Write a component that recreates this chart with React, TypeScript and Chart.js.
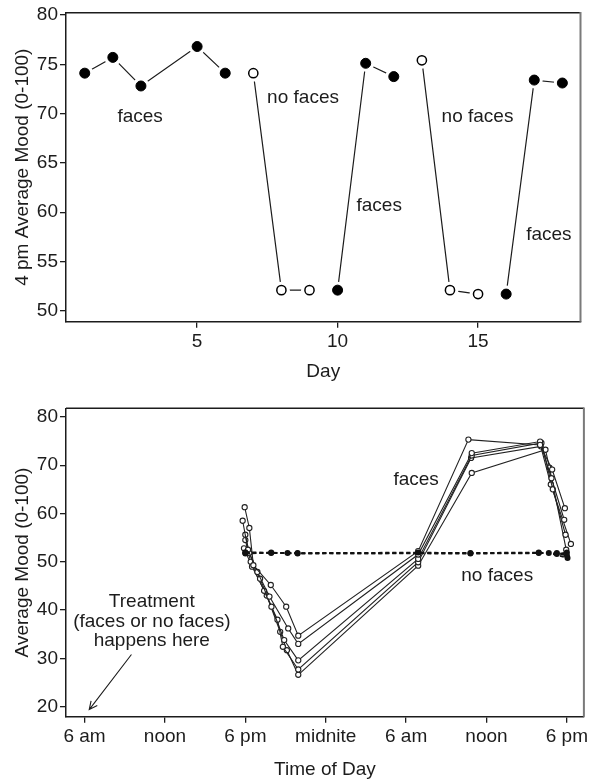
import React, { useEffect, useRef } from 'react';
import { Chart, registerables } from 'chart.js';
Chart.register(...registerables);

const FONT = "'Liberation Sans', Arial, sans-serif";
const INK = '#1c1c1c';

// ---------- Top panel: 4 pm mood by day ----------
const days = [1, 2, 3, 5, 6, 7, 8, 9, 10, 11, 12, 13, 14, 15, 16, 17, 18];
const mood4pm = [74.1, 75.7, 72.8, 76.8, 74.1, 74.1, 52.1, 52.1, 52.1, 75.1, 73.75, 75.4, 52.1, 51.7, 51.7, 73.4, 73.1];
const dayCondition = ['faces', 'faces', 'faces', 'faces', 'faces', 'none', 'none', 'none', 'faces', 'faces', 'faces', 'none', 'none', 'none', 'faces', 'faces', 'faces'];
const dayRuns = [[1, 2, 3, 5, 6], [7, 8, 9], [10, 11, 12], [13, 14, 15], [16, 17, 18]];
const dayTicks = [5, 10, 15];
const topMoodTicks = [50, 55, 60, 65, 70, 75, 80];
const topNotes = [
  { text: 'faces', x: 2.97, y: 69.7 },
  { text: 'no faces', x: 8.77, y: 71.6 },
  { text: 'faces', x: 11.48, y: 60.7 },
  { text: 'no faces', x: 14.98, y: 69.7 },
  { text: 'faces', x: 17.52, y: 57.7 },
];

// ---------- Bottom panel: mood by time of day ----------
const timeTicks = [6, 12, 18, 24, 30, 36, 42];
const timeTickLabels = ['6 am', 'noon', '6 pm', 'midnite', '6 am', 'noon', '6 pm'];
const bottomMoodTicks = [20, 30, 40, 50, 60, 70, 80];
const facesHours = [
  [17.95, 18.3, 18.6, 19.9, 21.05, 21.95, 30.9, 34.65, 40.0, 40.9, 41.85],
  [17.8, 18.2, 18.9, 19.8, 21.2, 21.95, 30.9, 34.9, 40.0, 40.85, 41.8],
  [18.0, 18.3, 19.1, 19.95, 20.9, 21.95, 30.9, 34.9, 40.1, 40.95, 41.9],
  [18.0, 18.4, 19.4, 20.4, 20.8, 21.95, 30.9, 34.85, 40.05, 40.8, 42.3],
  [17.9, 18.5, 19.6, 20.6, 21.1, 21.95, 30.9, 34.9, 40.4, 40.7, 41.95],
];
const facesMood = [
  [61.3, 57.0, 49.3, 45.2, 40.7, 34.7, 52.2, 75.3, 74.2, 69.1, 61.1],
  [58.5, 52.5, 47.9, 42.8, 36.2, 33.0, 51.5, 72.5, 74.9, 67.3, 58.7],
  [55.6, 51.8, 46.5, 40.7, 33.8, 29.6, 50.6, 72.0, 74.6, 65.0, 55.6],
  [54.5, 50.0, 44.0, 38.0, 32.4, 27.7, 49.9, 71.5, 73.9, 66.0, 53.7],
  [52.8, 49.0, 43.0, 35.5, 31.7, 26.6, 49.2, 68.4, 73.2, 69.5, 52.5],
];
const noFacesHours = [
  [18.0, 19.93, 21.9, 30.9, 34.8, 39.9, 41.25, 42.0],
  [18.0, 21.15, 34.8, 40.65, 42.05],
  [18.0, 19.93, 21.9, 39.9, 41.25, 42.0],
];
const noFacesMood = [
  [51.8, 51.8, 51.8, 51.9, 51.8, 51.8, 51.8, 51.3],
  [52.0, 51.8, 51.7, 51.8, 50.8],
  [51.7, 51.9, 51.7, 51.9, 51.6, 51.9],
];
const bottomNotes = [
  { text: 'faces', x: 30.75, y: 66.9 },
  { text: 'no faces', x: 36.8, y: 47.1 },
  { text: 'Treatment', x: 11.02, y: 41.7 },
  { text: '(faces or no faces)', x: 11.02, y: 37.6 },
  { text: 'happens here', x: 11.02, y: 33.7 },
];
const arrowFrom = [9.5, 30.8];
const arrowTo = [6.35, 19.4];

const textFont = { family: FONT, size: 19 };

function notesPlugin(notes: { text: string; x: number; y: number }[], arrow?: number[][]) {
  return {
    id: 'notes',
    afterDatasetsDraw(chart: any) {
      const { ctx, scales } = chart;
      ctx.save();
      ctx.fillStyle = INK;
      ctx.font = `19px ${FONT}`;
      ctx.textAlign = 'center';
      ctx.textBaseline = 'middle';
      notes.forEach((n) => {
        ctx.fillText(n.text, scales.x.getPixelForValue(n.x), scales.y.getPixelForValue(n.y));
      });
      if (arrow) {
        const x1 = scales.x.getPixelForValue(arrow[0][0]);
        const y1 = scales.y.getPixelForValue(arrow[0][1]);
        const x2 = scales.x.getPixelForValue(arrow[1][0]);
        const y2 = scales.y.getPixelForValue(arrow[1][1]);
        ctx.strokeStyle = INK;
        ctx.lineWidth = 1.1;
        ctx.beginPath();
        ctx.moveTo(x1, y1);
        ctx.lineTo(x2, y2);
        const ang = Math.atan2(y2 - y1, x2 - x1);
        const L = 9;
        ctx.moveTo(x2 - L * Math.cos(ang - 0.45), y2 - L * Math.sin(ang - 0.45));
        ctx.lineTo(x2, y2);
        ctx.lineTo(x2 - L * Math.cos(ang + 0.45), y2 - L * Math.sin(ang + 0.45));
        ctx.stroke();
      }
      ctx.restore();
    },
  };
}

const framePlugin = {
  id: 'frame',
  afterDraw(chart: any) {
    const { ctx, chartArea } = chart;
    const { left, top, right, bottom } = chartArea;
    ctx.save();
    ctx.strokeStyle = INK;
    ctx.lineWidth = 1.5;
    ctx.beginPath();
    ctx.moveTo(left, top);
    ctx.lineTo(right, top);
    ctx.stroke();
    ctx.strokeStyle = '#7a7a7a';
    ctx.lineWidth = 2;
    ctx.beginPath();
    ctx.moveTo(right, top - 0.75);
    ctx.lineTo(right, bottom);
    ctx.stroke();
    ctx.restore();
  },
};

function axisCommon() {
  return {
    grid: { display: true, drawOnChartArea: false, drawTicks: true, tickLength: 6, color: INK, lineWidth: 1.3 },
    border: { display: true, color: INK, width: 1.5 },
  };
}

function topConfig(): any {
  const pts = days.map((d, i) => ({ x: d, y: mood4pm[i] }));
  const lines = dayRuns.map((run) => ({
    data: run.map((d) => ({ x: d, y: mood4pm[days.indexOf(d)] })),
    showLine: true,
    borderColor: INK,
    borderWidth: 1.2,
    pointRadius: 0,
    order: 2,
  }));
  return {
    type: 'scatter',
    data: {
      datasets: [
        ...lines,
        { data: pts, showLine: false, pointRadius: 8.5, pointBackgroundColor: '#fff', pointBorderWidth: 0, pointBorderColor: '#fff', order: 1 },
        {
          data: pts,
          showLine: false,
          pointRadius: dayCondition.map((c) => (c === 'faces' ? 5 : 4.6)),
          pointBackgroundColor: dayCondition.map((c) => (c === 'faces' ? '#000' : '#fff')),
          pointBorderColor: '#000',
          pointBorderWidth: dayCondition.map((c) => (c === 'faces' ? 1 : 1.5)),
          order: 0,
        },
      ],
    },
    options: {
      responsive: false,
      animation: false,
      devicePixelRatio: 1,
      events: [],
      layout: { padding: { top: 12.7, right: 4, left: 0, bottom: 0 } },
      plugins: { legend: { display: false }, tooltip: { enabled: false } },
      scales: {
        x: {
          type: 'linear',
          min: 0.333,
          max: 18.646,
          ...axisCommon(),
          afterBuildTicks: (s: any) => { s.ticks = dayTicks.map((v) => ({ value: v })); },
          afterFit: (s: any) => { s.height = 68.3; s.paddingLeft = 0; s.paddingRight = 0; },
          ticks: { font: textFont, color: INK, padding: 3, maxRotation: 0, autoSkip: false },
          title: { display: true, text: 'Day', font: textFont, color: INK, padding: { top: 0, bottom: 6.6 } },
        },
        y: {
          type: 'linear',
          min: 48.9,
          max: 80.23,
          ...axisCommon(),
          afterBuildTicks: (s: any) => { s.ticks = topMoodTicks.map((v) => ({ value: v })); },
          afterFit: (s: any) => { s.width = 66; s.paddingTop = 0; s.paddingBottom = 0; },
          ticks: { font: textFont, color: INK, padding: 2, autoSkip: false },
          title: { display: true, text: '4 pm Average Mood (0-100)', font: textFont, color: INK, padding: { top: 11, bottom: 0 } },
        },
      },
    },
    plugins: [framePlugin, notesPlugin(topNotes)],
  };
}

function bottomConfig(): any {
  const faces = facesHours.map((hrs, k) => ({
    data: hrs.map((h, i) => ({ x: h, y: facesMood[k][i] })),
    showLine: true,
    borderColor: '#222',
    borderWidth: 1.1,
    pointRadius: 2.6,
    pointBackgroundColor: '#fff',
    pointBorderColor: '#222',
    pointBorderWidth: 1.1,
    order: 1,
  }));
  const none = noFacesHours.map((hrs, k) => ({
    data: hrs.map((h, i) => ({ x: h, y: noFacesMood[k][i] })),
    showLine: true,
    borderColor: '#111',
    borderWidth: 1.8,
    borderDash: [4, 3],
    pointRadius: 3,
    pointBackgroundColor: '#111',
    pointBorderColor: '#111',
    pointBorderWidth: 0,
    order: 0,
  }));
  return {
    type: 'scatter',
    data: { datasets: [...faces, ...none] },
    options: {
      responsive: false,
      animation: false,
      devicePixelRatio: 1,
      events: [],
      layout: { padding: { top: 18.3, right: 4, left: 0, bottom: 0 } },
      plugins: { legend: { display: false }, tooltip: { enabled: false } },
      scales: {
        x: {
          type: 'linear',
          min: 4.615,
          max: 43.27,
          ...axisCommon(),
          afterBuildTicks: (s: any) => { s.ticks = timeTicks.map((v) => ({ value: v })); },
          afterFit: (s: any) => { s.height = 64.3; s.paddingLeft = 0; s.paddingRight = 0; },
          ticks: {
            font: textFont,
            color: INK,
            padding: 3,
            maxRotation: 0,
            autoSkip: false,
            callback: (v: number) => timeTickLabels[timeTicks.indexOf(v)],
          },
          title: { display: true, text: 'Time of Day', font: textFont, color: INK, padding: { top: 0, bottom: 0 } },
        },
        y: {
          type: 'linear',
          min: 17.93,
          max: 81.78,
          ...axisCommon(),
          afterBuildTicks: (s: any) => { s.ticks = bottomMoodTicks.map((v) => ({ value: v })); },
          afterFit: (s: any) => { s.width = 66; s.paddingTop = 0; s.paddingBottom = 0; },
          ticks: { font: textFont, color: INK, padding: 2, autoSkip: false },
          title: { display: true, text: 'Average Mood (0-100)', font: textFont, color: INK, padding: { top: 11, bottom: 0 } },
        },
      },
    },
    plugins: [framePlugin, notesPlugin(bottomNotes, [arrowFrom, arrowTo])],
  };
}

export default function App() {
  const topRef = useRef<HTMLCanvasElement>(null);
  const botRef = useRef<HTMLCanvasElement>(null);
  useEffect(() => {
    Chart.defaults.font.family = FONT;
    const c1 = new Chart(topRef.current as HTMLCanvasElement, topConfig());
    const c2 = new Chart(botRef.current as HTMLCanvasElement, bottomConfig());
    return () => {
      c1.destroy();
      c2.destroy();
    };
  }, []);
  return (
    <div style={{ position: 'absolute', left: 0, top: 0, width: 589, height: 781, background: '#fff', overflow: 'hidden' }}>
      <canvas ref={topRef} width={589} height={390} style={{ position: 'absolute', left: 0, top: 0, width: 589, height: 390 }} />
      <canvas ref={botRef} width={589} height={391} style={{ position: 'absolute', left: 0, top: 390, width: 589, height: 391 }} />
    </div>
  );
}
